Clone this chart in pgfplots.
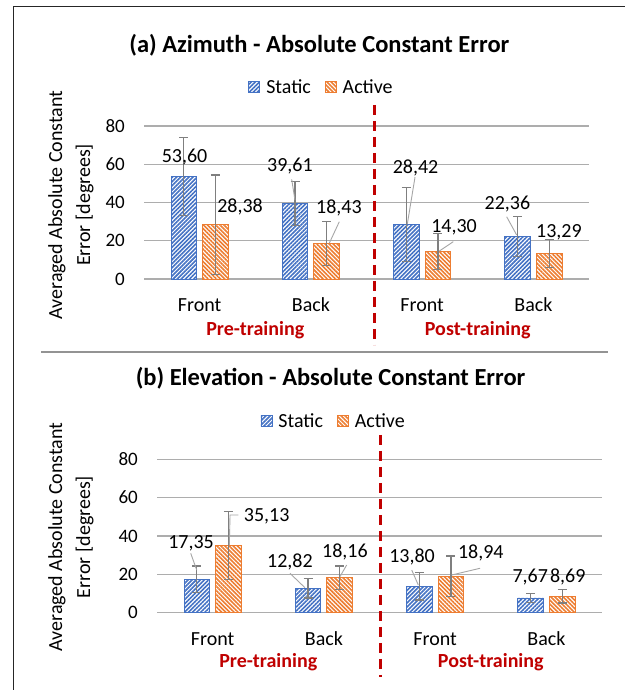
\documentclass[border=0pt]{standalone}
\usepackage{fontspec}
\setmainfont{Carlito}
\usepackage{pgfplots}
\pgfplotsset{compat=1.18}
\usetikzlibrary{patterns.meta}
\definecolor{cblue}{HTML}{4472C4}
\definecolor{corange}{HTML}{ED7D31}
\definecolor{dred}{HTML}{C00000}
\definecolor{gridc}{HTML}{ADADAD}
\definecolor{errc}{HTML}{7F7F7F}
\definecolor{leadc}{HTML}{A6A6A6}
\pgfplotsset{
 panel/.style={
  scale only axis, width=445pt,
  xmin=-0.5, xmax=3.5, ymin=0, ymax=80,
  ytick={0,20,40,60,80},
  xtick={0,1,2,3}, xticklabels={Front,Back,Front,Back},
  axis line style={draw=none}, major tick style={draw=none},
  ymajorgrids, grid style={gridc, line width=1.1pt},
  clip=false,
  /pgf/number format/assume math mode=true,
  yticklabel style={font=\fontsize{19}{22}\selectfont, inner sep=0pt, anchor=east, xshift=-19pt},
  xticklabel style={font=\fontsize{20}{24}\selectfont, inner sep=0pt, anchor=center, yshift=-26pt},
  legend style={draw=none, fill=none, font=\fontsize{20}{24}\selectfont, anchor=center,
    /tikz/every even column/.append style={column sep=12pt}},
  legend columns=2,
  title style={font=\fontsize{24.5}{28}\selectfont\bfseries, anchor=center},
 },
 barbase/.style={ybar, bar width=25.6pt, bar shift=0pt, line width=0.8pt, fill=white,
   legend image code/.code={\draw[##1] (0pt,-5.5pt) rectangle (11pt,5.5pt); \path (15pt,0pt);}},
 sbar/.style={barbase, draw=cblue,
   postaction={pattern={Lines[angle=45,distance=2.9pt,line width=1.6pt]}, pattern color=cblue}},
 abar/.style={barbase, draw=corange,
   postaction={pattern={Lines[angle=-45,distance=2.9pt,line width=1.6pt]}, pattern color=corange}},
 errs/.style={forget plot, draw=none, mark=none,
   error bars/y dir=both, error bars/y explicit,
   error bars/error bar style={draw=errc, line width=1.2pt},
   error bars/error mark options={draw=errc, rotate=90, mark size=4.5pt, line width=1.2pt}},
}
\tikzset{
 dl/.style={font=\fontsize{20}{24}\selectfont, inner sep=0pt, anchor=center},
 leader/.style={draw=leadc, line width=0.9pt},
 grp/.style={font=\fontsize{20}{24}\selectfont\bfseries, text=dred, inner sep=0pt, anchor=center},
 sep/.style={draw=dred, line width=2.5pt, dash pattern=on 10pt off 6pt},
}
\begin{document}
\begin{tikzpicture}
\useasboundingbox (0,0) rectangle (625pt,690pt);
\fill[white] (0,0) rectangle (625pt,690pt);
\draw[black!85, line width=1pt] (13pt,0pt) -- (13pt,683pt) -- (625pt,683pt);
\draw[gridc!85!black, line width=1.3pt] (41pt,338pt) -- (608pt,338pt);

% ---------------- panel (a)
\begin{axis}[panel, height=153pt, at={(144pt,411pt)}, anchor=south west,
  title={(a) Azimuth - Absolute Constant Error}, title style={at={(0.394,1.49)}},
  legend style={at={(0.399,1.255)}}]
\addplot[sbar] coordinates {(-0.142,53.60) (0.858,39.61) (1.858,28.42) (2.858,22.36)};
\addplot[abar] coordinates {(0.142,28.38) (1.142,18.43) (2.142,14.30) (3.142,13.29)};
\legend{Static, Active}
\addplot[errs] coordinates {(-0.142,53.60) +- (0,20.2) (0.858,39.61) +- (0,11.5) (1.858,28.42) +- (0,19.4) (2.858,22.36) +- (0,10.4)};
\addplot[errs] coordinates {(0.142,28.38) +- (0,26.0) (1.142,18.43) +- (0,11.5) (2.142,14.30) +- (0,9.4) (3.142,13.29) +- (0,7.3)};
\node[dl, xshift=-15.1pt, yshift=19.8pt] at (axis cs:0,53.60) {53,60};
\node[dl, xshift=40.4pt, yshift=17.4pt] at (axis cs:0,28.38) {28,38};
\node[dl, xshift=-20.9pt, yshift=37.5pt] at (axis cs:1,39.61) {39,61};
\draw[leader] ([xshift=-19.2pt,yshift=23.9pt]axis cs:1,39.61) -- ([xshift=-15.9pt,yshift=3.2pt]axis cs:1,39.61);
\node[dl, xshift=28.1pt, yshift=35.4pt] at (axis cs:1,18.43) {18,43};
\draw[leader] ([xshift=28.4pt,yshift=22pt]axis cs:1,18.43) -- ([xshift=18.4pt,yshift=0.5pt]axis cs:1,18.43);
\node[dl, xshift=-6.6pt, yshift=56.3pt] at (axis cs:2,28.42) {28,42};
\draw[leader] ([xshift=-7.1pt,yshift=47.6pt]axis cs:2,28.42) -- ([xshift=-14.8pt,yshift=0.6pt]axis cs:2,28.42);
\node[dl, xshift=31.9pt, yshift=24pt] at (axis cs:2,14.30) {14,30};
\draw[leader] ([xshift=31.2pt,yshift=10pt]axis cs:2,14.30) -- ([xshift=17.2pt,yshift=0.6pt]axis cs:2,14.30);
\node[dl, xshift=-25.9pt, yshift=32.2pt] at (axis cs:3,22.36) {22,36};
\draw[leader] ([xshift=-26.7pt,yshift=19.5pt]axis cs:3,22.36) -- ([xshift=-16.7pt,yshift=1.2pt]axis cs:3,22.36);
\node[dl, xshift=25.6pt, yshift=20.9pt] at (axis cs:3,13.29) {13,29};
\node[grp, yshift=-51pt] at (axis cs:0.5,0) {Pre-training};
\node[grp, yshift=-51pt] at (axis cs:2.5,0) {Post-training};
\draw[sep] (axis cs:1.57,91) -- (axis cs:1.57,-34.5);
\end{axis}

% ---------------- panel (b)
\begin{axis}[panel, height=153.4pt, at={(157pt,77.3pt)}, anchor=south west,
  title={(b) Elevation - Absolute Constant Error}, title style={at={(0.39,1.492)}},
  legend style={at={(0.397,1.25)}}]
\addplot[sbar] coordinates {(-0.142,17.35) (0.858,12.82) (1.858,13.80) (2.858,7.67)};
\addplot[abar] coordinates {(0.142,35.13) (1.142,18.16) (2.142,18.94) (3.142,8.69)};
\legend{Static, Active}
\addplot[errs] coordinates {(-0.142,17.35) +- (0,7.0) (0.858,12.82) +- (0,5.2) (1.858,13.80) +- (0,7.2) (2.858,7.67) +- (0,2.4)};
\addplot[errs] coordinates {(0.142,35.13) +- (0,17.8) (1.142,18.16) +- (0,6.2) (2.142,18.94) +- (0,10.6) (3.142,8.69) +- (0,3.6)};
\node[dl, xshift=-21.6pt, yshift=36.1pt] at (axis cs:0,17.35) {17,35};
\draw[leader] ([xshift=-21.9pt,yshift=26.1pt]axis cs:0,17.35) -- ([xshift=-15.9pt,yshift=9.4pt]axis cs:0,17.35);
\node[dl, xshift=54.1pt, yshift=29.3pt] at (axis cs:0,35.13) {35,13};
\draw[leader] ([xshift=25.7pt,yshift=30.3pt]axis cs:0,35.13) -- ([xshift=17.4pt,yshift=30.3pt]axis cs:0,35.13) -- ([xshift=16.7pt,yshift=0.3pt]axis cs:0,35.13);
\node[dl, xshift=-33.9pt, yshift=25.8pt] at (axis cs:1,12.82) {12,82};
\draw[leader] ([xshift=-33.9pt,yshift=14.8pt]axis cs:1,12.82) -- ([xshift=-18.9pt,yshift=0.4pt]axis cs:1,12.82);
\node[dl, xshift=21.1pt, yshift=25.6pt] at (axis cs:1,18.16) {18,16};
\draw[leader] ([xshift=22.8pt,yshift=12.9pt]axis cs:1,18.16) -- ([xshift=16.1pt,yshift=1.2pt]axis cs:1,18.16);
\node[dl, xshift=-23.1pt, yshift=29.5pt] at (axis cs:2,13.80) {13,80};
\draw[leader] ([xshift=-23.4pt,yshift=16.2pt]axis cs:2,13.80) -- ([xshift=-16.8pt,yshift=1.2pt]axis cs:2,13.80);
\node[dl, xshift=45.7pt, yshift=23.1pt] at (axis cs:2,18.94) {18,94};
\draw[leader] ([xshift=44.9pt,yshift=8.1pt]axis cs:2,18.94) -- ([xshift=16.6pt,yshift=1.4pt]axis cs:2,18.94);
\node[dl, xshift=-16.1pt, yshift=20.7pt] at (axis cs:3,7.67) {7,67};
\node[dl, xshift=21.4pt, yshift=19.3pt] at (axis cs:3,8.69) {8,69};
\node[grp, yshift=-49.3pt] at (axis cs:0.5,0) {Pre-training};
\node[grp, yshift=-49.3pt] at (axis cs:2.5,0) {Post-training};
\draw[sep] (axis cs:1.51,92.7) -- (axis cs:1.51,-33.5);
\end{axis}

\node[rotate=90, align=center, font=\fontsize{20}{28}\selectfont, inner sep=0pt] at (71pt,485pt) {Averaged Absolute Constant\\Error [degrees]};
\node[rotate=90, align=center, font=\fontsize{20}{28}\selectfont, inner sep=0pt] at (71pt,153pt) {Averaged Absolute Constant\\Error [degrees]};
\end{tikzpicture}
\end{document}
